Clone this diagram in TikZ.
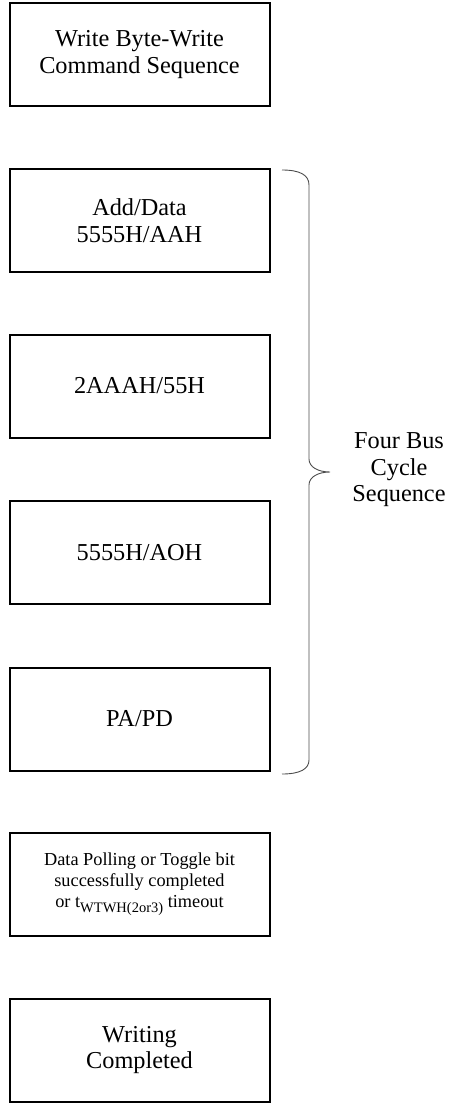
\documentclass[tikz,border=0pt]{standalone}
\usepackage{fontspec}
\setmainfont{Liberation Serif}
\newcommand{\lowsub}[1]{\raisebox{-4.5pt}{\fontsize{14.5}{14.5}\selectfont #1}}
\begin{document}
\begin{tikzpicture}[x=1pt,y=-1pt,
  box/.style={draw=black, line width=2pt, minimum width=260pt, minimum height=103pt,
    inner sep=0pt, align=center, font=\fontsize{24.3}{26.5}\selectfont},
  smallbox/.style={box, font=\fontsize{18.3}{21.3}\selectfont},
  bracestyle/.style={draw=black!70, line width=0.9pt},
  lbl/.style={align=center, font=\fontsize{24.3}{26.5}\selectfont, inner sep=0pt}]
\useasboundingbox (0,0) rectangle (452,1105);
\node[box] (b1) at (139.5,54.5) {Write Byte-Write\\Command Sequence};
\node[box] (b2) at (139.5,220.5) {Add/Data\\5555H/AAH};
\node[box] (b3) at (139.5,386) {2AAAH/55H};
\node[box] (b4) at (139.5,552.5) {5555H/AOH};
\node[box] (b5) at (139.5,719) {PA/PD};
\node[smallbox] (b6) at (139.5,884) {Data Polling or Toggle bit\\successfully completed\\or t\lowsub{WTWH(2or3)} timeout};
\node[box] (b7) at (139.5,1050) {Writing\\Completed};
\coordinate (btop) at (282,170);
\coordinate (btip) at (330,472);
\coordinate (bbot) at (282,774);
\draw[bracestyle] (btop) .. controls (300,170) and (309,175) .. (309,185) -- (309,459)
  .. controls (309,467) and (318,472) .. (btip)
  .. controls (318,472) and (309,477) .. (309,485) -- (309,760)
  .. controls (309,769) and (300,774) .. (bbot);
\node[lbl] (four) at (399,470) {Four Bus\\Cycle\\Sequence};
\end{tikzpicture}
\end{document}
